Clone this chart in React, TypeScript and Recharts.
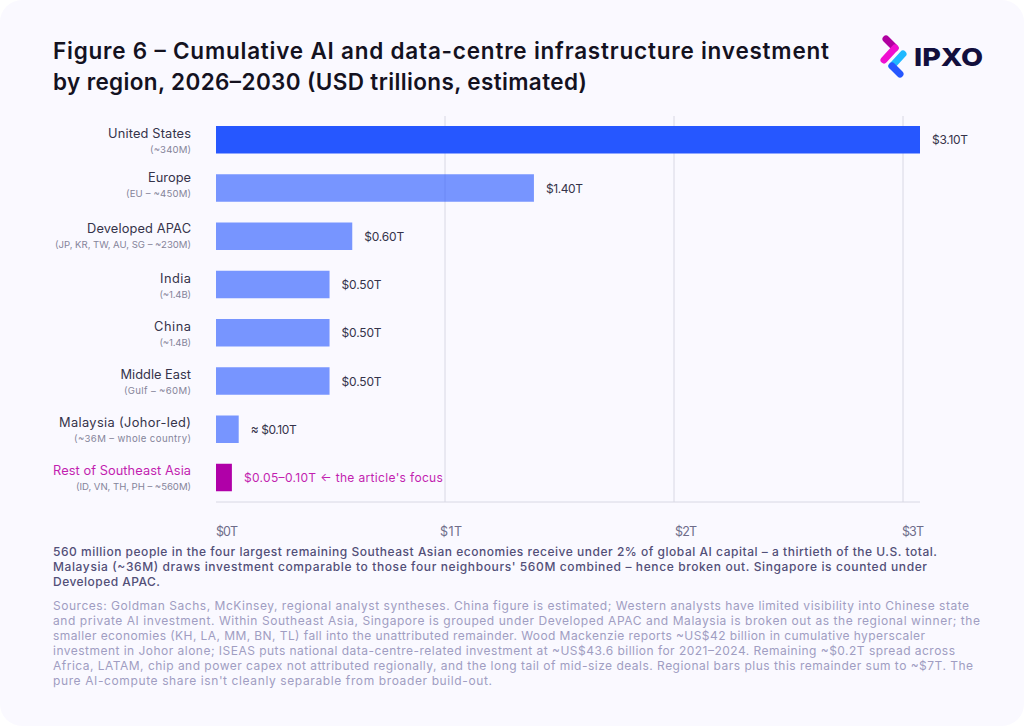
import React from "react";
import { BarChart, Bar, XAxis, YAxis, CartesianGrid, Cell, LabelList } from "recharts";

const FONT = "Inter, 'Noto Sans', sans-serif";

const regions = ["United States", "Europe", "Developed APAC", "India", "China", "Middle East", "Malaysia (Johor-led)", "Rest of Southeast Asia"];
const populations = ["(~340M)", "(EU – ~450M)", "(JP, KR, TW, AU, SG – ~230M)", "(~1.4B)", "(~1.4B)", "(Gulf – ~60M)", "(~36M – whole country)", "(ID, VN, TH, PH – ~560M)"];
const investment = [3.1, 1.4, 0.6, 0.5, 0.5, 0.5, 0.1, 0.07];
const valueLabels = ["$3.10T", "$1.40T", "$0.60T", "$0.50T", "$0.50T", "$0.50T", "≈ $0.10T", "$0.05–0.10T ← the article's focus"];
const gridTicks = [0, 1, 2, 3];
const tickLabels = ["$0T", "$1T", "$2T", "$3T"];
const tickNudges = [0, -5, 1, -1];
const barColors = ["#2657FF", "#2657FF", "#2657FF", "#2657FF", "#2657FF", "#2657FF", "#2657FF", "#B000A8"];
const barOpacity = [1, 0.62, 0.62, 0.62, 0.62, 0.62, 0.62, 1];

const regionWidths = [83, 43, 104, 31, 37, 70.5, 132, 138];
const populationWidths = [41, 65, 136, 31.5, 31.5, 67, 117, 115];
const valueWidths = [36, 37, 40, 40, 40, 40, 46, 199];
const rowNudges = [0, -4, -1, 1, 0, 0, 0, 0];

const titleLines = [
  "Figure 6 – Cumulative AI and data-centre infrastructure investment",
  "by region, 2026–2030 (USD trillions, estimated)",
];
const noteLines = [
  "560 million people in the four largest remaining Southeast Asian economies receive under 2% of global AI capital – a thirtieth of the U.S. total.",
  "Malaysia (~36M) draws investment comparable to those four neighbours' 560M combined – hence broken out. Singapore is counted under",
  "Developed APAC.",
];
const sourceLines = [
  "Sources: Goldman Sachs, McKinsey, regional analyst syntheses. China figure is estimated; Western analysts have limited visibility into Chinese state",
  "and private AI investment. Within Southeast Asia, Singapore is grouped under Developed APAC and Malaysia is broken out as the regional winner; the",
  "smaller economies (KH, LA, MM, BN, TL) fall into the unattributed remainder. Wood Mackenzie reports ~US$42 billion in cumulative hyperscaler",
  "investment in Johor alone; ISEAS puts national data-centre-related investment at ~US$43.6 billion for 2021–2024. Remaining ~$0.2T spread across",
  "Africa, LATAM, chip and power capex not attributed regionally, and the long tail of mid-size deals. Regional bars plus this remainder sum to ~$7T. The",
  "pure AI-compute share isn't cleanly separable from broader build-out.",
];
const titleWidths = [776, 534];
const noteWidths = [884, 874, 107];
const sourceWidths = [916, 927, 872, 902, 920, 439];

const rows = regions.map((region, i) => ({ region, value: investment[i], label: valueLabels[i] }));

function RegionTick(props: any) {
  const { x, y, index } = props;
  const focus = index === regions.length - 1;
  const ny = y + rowNudges[index];
  return (
    <g fontFamily={FONT}>
      <text x={x} y={ny - 2.5} textAnchor="end" fontSize={12.8} fill={focus ? "#C21FB0" : "#35334A"} textLength={regionWidths[index]} lengthAdjust="spacing">{regions[index]}</text>
      <text x={x} y={ny + 12.5} textAnchor="end" fontSize={9.6} fill="#85849A" textLength={populationWidths[index]} lengthAdjust="spacing">{populations[index]}</text>
    </g>
  );
}

function ValueTick(props: any) {
  const { x, y, index } = props;
  return (
    <text x={x + tickNudges[index]} y={y + 26} textAnchor="start" fontFamily={FONT} fontSize={12.5} fill="#6E6C8A" textLength={22} lengthAdjust="spacing">
      {tickLabels[index]}
    </text>
  );
}

function BarValue(props: any) {
  const { x, y, width, height, index } = props;
  const focus = index === regions.length - 1;
  return (
    <text x={x + width + 12} y={y + height / 2 + 4.5} fontFamily={FONT} fontSize={12} fill={focus ? "#C21FB0" : "#35334A"} textLength={valueWidths[index]} lengthAdjust="spacing">
      {valueLabels[index]}
    </text>
  );
}

function Logo() {
  return (
    <g fill="none" strokeWidth={7} strokeLinecap="round" strokeLinejoin="round">
      <path d="M886 39 L895 48" stroke="#B000A0" />
      <path d="M895 48 L884 60" stroke="#F00FD0" />
      <path d="M903 54 L892 66" stroke="#1FB8FF" />
      <path d="M892 66 L900 74" stroke="#2657FF" />
      <text x={914} y={66} fontFamily={FONT} fontWeight={800} fontSize={25} fill="#120F3D" stroke="none" textLength={69} lengthAdjust="spacingAndGlyphs">IPXO</text>
    </g>
  );
}

export default function App() {
  return (
    <div style={{ position: "absolute", left: 0, top: 0, width: 1024, height: 726, background: "#fff", overflow: "hidden" }}>
      <div style={{ position: "absolute", inset: 0, background: "#FAF9FF", borderRadius: 22 }} />
      <div style={{ position: "absolute", left: 0, top: 0 }}>
        <BarChart
          width={1024}
          height={726}
          data={rows}
          layout="vertical"
          margin={{ top: 116, right: 104, bottom: 184, left: 0 }}
          barCategoryGap={0}
        >
          <CartesianGrid xAxisId="grid" horizontal={false} verticalValues={[1, 2, 3]} stroke="#D8D8E4" strokeWidth={1} />
          <XAxis xAxisId="bars" type="number" domain={[0, 3.1]} hide height={0} />
          <XAxis
            xAxisId="grid"
            type="number"
            domain={[0, 704 / 229]}
            ticks={gridTicks}
            height={40}
            axisLine={{ stroke: "#D8D8E4" }}
            tickLine={false}
            tick={<ValueTick />}
            interval={0}
            allowDataOverflow
          />
          <YAxis
            type="category"
            dataKey="region"
            width={216}
            axisLine={false}
            tickLine={false}
            tickMargin={25}
            tickSize={0}
            interval={0}
            tick={<RegionTick />}
          />
          <Bar xAxisId="bars" dataKey="value" barSize={27.5} isAnimationActive={false}>
            {rows.map((r, i) => (
              <Cell key={r.region} fill={barColors[i]} fillOpacity={barOpacity[i]} />
            ))}
            <LabelList dataKey="label" content={<BarValue />} />
          </Bar>
        </BarChart>
      </div>
      <svg width={1024} height={726} style={{ position: "absolute", left: 0, top: 0, pointerEvents: "none" }} fontFamily={FONT}>
        {titleLines.map((t, i) => (
          <text key={i} x={53} y={59 + i * 31} fontSize={22.5} fontWeight={600} fill="#14121F" textLength={titleWidths[i]} lengthAdjust="spacing">{t}</text>
        ))}
        {noteLines.map((t, i) => (
          <text key={i} x={53} y={555.8 + i * 15} fontSize={12} fontWeight={500} fill="#524F78" textLength={noteWidths[i]} lengthAdjust="spacing">{t}</text>
        ))}
        {sourceLines.map((t, i) => (
          <text key={i} x={53} y={610 + i * 15} fontSize={12} fill="#A09DC2" textLength={sourceWidths[i]} lengthAdjust="spacing">{t}</text>
        ))}
        <Logo />
      </svg>
    </div>
  );
}
